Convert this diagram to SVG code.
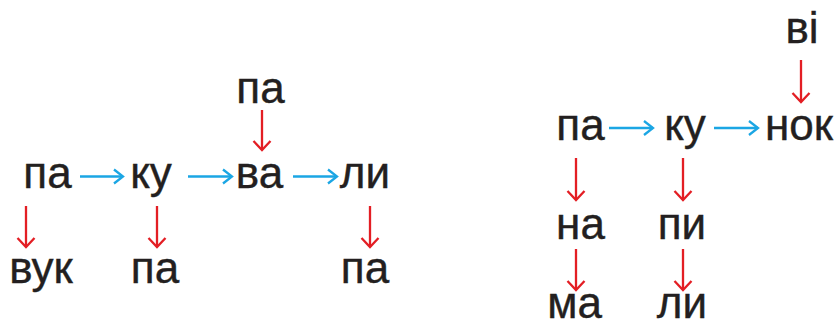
<svg xmlns="http://www.w3.org/2000/svg" width="840" height="326" viewBox="0 0 840 326">
<defs>
<style>
text{font-family:"Liberation Sans",Arial,sans-serif;font-size:44px;fill:#231f20;stroke:#231f20;stroke-width:0.4;text-anchor:middle}
.b{stroke:#1ba6e4;stroke-width:2.3;fill:none}
.r{stroke:#e31e24;stroke-width:2.3;fill:none}
</style>
<marker id="hb" markerUnits="userSpaceOnUse" viewBox="-12 -10 24 20" markerWidth="24" markerHeight="20" refX="0" refY="0" orient="auto" overflow="visible">
<path d="M-9,-7 L0,0 L-9,7" fill="none" stroke="#1ba6e4" stroke-width="2.3"/>
</marker>
<marker id="hr" markerUnits="userSpaceOnUse" viewBox="-12 -10 24 20" markerWidth="24" markerHeight="20" refX="0" refY="0" orient="auto" overflow="visible">
<path d="M-9,-8.5 L0,0 L-9,8.5" fill="none" stroke="#e31e24" stroke-width="2.3"/>
</marker>
</defs>
<g id="n_pa1"><text x="47.5" y="188">па</text></g>
<g id="n_ku1"><text x="151" y="188">ку</text></g>
<g id="n_va"><text x="259.5" y="188">ва</text></g>
<g id="n_ly1"><text x="365" y="188">ли</text></g>
<g id="n_pa_top"><text x="260.5" y="103">па</text></g>
<g id="n_vuk"><text x="41" y="283">вук</text></g>
<g id="n_pa2"><text x="155" y="283">па</text></g>
<g id="n_pa3"><text x="365" y="283">па</text></g>
<g id="n_vi"><text x="802" y="43">ві</text></g>
<g id="n_pa4"><text x="580.5" y="140">па</text></g>
<g id="n_ku2"><text x="685" y="140">ку</text></g>
<g id="n_nok"><text x="799" y="140">нок</text></g>
<g id="n_na"><text x="580.5" y="239">на</text></g>
<g id="n_py"><text x="682" y="239">пи</text></g>
<g id="n_ma"><text x="574.5" y="318">ма</text></g>
<g id="n_ly2"><text x="682" y="318">ли</text></g>
<g id="connectors">
<line class="b" x1="80" y1="176.5" x2="123" y2="176.5" marker-end="url(#hb)"/>
<line class="b" x1="188" y1="176.5" x2="232" y2="176.5" marker-end="url(#hb)"/>
<line class="b" x1="293" y1="176.5" x2="337" y2="176.5" marker-end="url(#hb)"/>
<line class="r" x1="262" y1="110" x2="262" y2="150" marker-end="url(#hr)"/>
<line class="r" x1="26" y1="206" x2="26" y2="247" marker-end="url(#hr)"/>
<line class="r" x1="157" y1="206" x2="157" y2="247" marker-end="url(#hr)"/>
<line class="r" x1="370" y1="206" x2="370" y2="247" marker-end="url(#hr)"/>
<line class="b" x1="609" y1="128" x2="653" y2="128" marker-end="url(#hb)"/>
<line class="b" x1="714" y1="128" x2="758" y2="128" marker-end="url(#hb)"/>
<line class="r" x1="801" y1="60" x2="801" y2="102" marker-end="url(#hr)"/>
<line class="r" x1="576" y1="158" x2="576" y2="200" marker-end="url(#hr)"/>
<line class="r" x1="683" y1="158" x2="683" y2="200" marker-end="url(#hr)"/>
<line class="r" x1="576" y1="249" x2="576" y2="290" marker-end="url(#hr)"/>
<line class="r" x1="683" y1="249" x2="683" y2="290" marker-end="url(#hr)"/>
</g>
</svg>
